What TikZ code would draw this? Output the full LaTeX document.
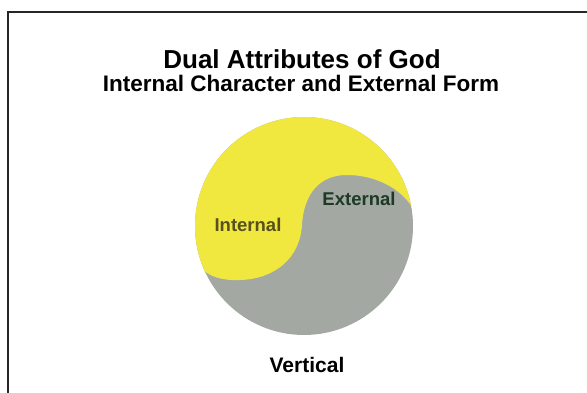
\documentclass[tikz,border=0pt]{standalone}
\usepackage{fontspec}
\setmainfont{Liberation Sans}
\definecolor{yinyellow}{RGB}{240,232,62}
\definecolor{yanggray}{RGB}{163,168,163}
\definecolor{intbrown}{RGB}{88,80,30}
\definecolor{extgreen}{RGB}{28,58,36}
\begin{document}
\begin{tikzpicture}[x=1pt, y=1pt,
    heading/.style={anchor=base, font=\fontsize{26}{31}\selectfont\bfseries},
    subheading/.style={anchor=base, font=\fontsize{22.5}{27}\selectfont\bfseries},
    halflabel/.style={anchor=base, font=\fontsize{18.5}{22}\selectfont\bfseries}]
    \useasboundingbox (0,0) rectangle (587,393);
    % Frame (only left and top edges show)
    \draw[line width=1.6pt, black!85] (8,0) -- (8,381) -- (587,381);

    % Titles
    \node[heading] (title) at (302,324) {Dual Attributes of God};
    \node[subheading] (subtitle) at (301,301) {Internal Character and External Form};

    % Circle split into the two halves
    \coordinate (ctr) at (304,167);
    \coordinate (leftend) at (197,135);
    \coordinate (rightend) at (412,186);
    \fill[yanggray] (ctr) circle (109);
    \begin{scope}
        \clip (ctr) circle (109);
        \fill[yinyellow] (leftend) .. controls (200,118) and (220,112) .. (240,113)
            .. controls (275,114) and (300,135) .. (302,168)
            .. controls (304,200) and (320,218) .. (347,218)
            .. controls (375,218) and (400,205) .. (rightend)
            -- (440,186) -- (440,300) -- (170,300) -- (170,135) -- cycle;
    \end{scope}

    % Labels
    \node[halflabel, intbrown] (internal) at (248,161) {Internal};
    \node[halflabel, extgreen] (external) at (359,187) {External};
    \node[subheading, font=\fontsize{21}{25}\selectfont\bfseries] (vertical) at (307,20) {Vertical};
\end{tikzpicture}
\end{document}
